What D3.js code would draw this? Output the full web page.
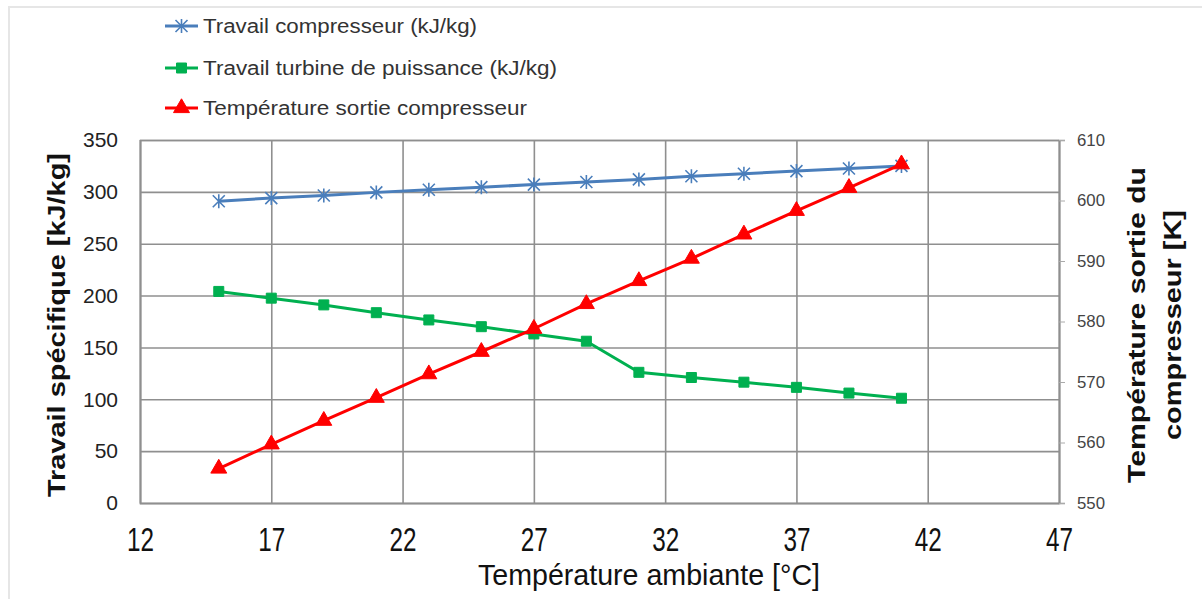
<!DOCTYPE html>
<html>
<head>
<meta charset="utf-8">
<script src="https://cdn.jsdelivr.net/npm/d3@7"></script>
<style>
  body { margin: 0; background: #fff; }
  svg { display: block; }
  text { font-family: "Liberation Sans", Arial, sans-serif; }
</style>
</head>
<body>
<div id="chart"></div>
<script>
// data
var tempAmb = [15, 17, 19, 21, 23, 25, 27, 29, 31, 33, 35, 37, 39, 41];
var travailComp = [291, 294, 296.5, 299.5, 302, 304.5, 307, 309.5, 312, 315, 317.5, 320, 322.5, 325];
var travailTurb = [204, 197.5, 191, 183.5, 176.5, 170, 163, 156, 126, 121, 116.5, 111.5, 106, 101];
var tempSortie = [555.7, 559.7, 563.6, 567.4, 571.3, 575.0, 578.8, 582.9, 586.7, 590.4, 594.4, 598.3, 602.1, 606.0];
var xTicks = [12, 17, 22, 27, 32, 37, 42, 47];
var yLeftTicks = [0, 50, 100, 150, 200, 250, 300, 350];
var yRightTicks = [550, 560, 570, 580, 590, 600, 610];

var w = 1202, h = 599;
var pLeft = 140, pRight = 1059, pTop = 140, pBottom = 503;

var svg = d3.select("#chart").append("svg")
    .attr("width", w)
    .attr("height", h);

// outer frame
svg.append("path")
    .attr("d", "M9,600 L9,7 L1203,7")
    .attr("fill", "none")
    .attr("stroke", "#e6e6e6")
    .attr("stroke-width", 2);

var x = d3.scaleLinear().domain([12, 47]).range([pLeft, pRight]);
var yL = d3.scaleLinear().domain([0, 350]).range([pBottom, pTop]);
var yR = d3.scaleLinear().domain([550, 610]).range([pBottom, pTop]);

var gridCol = "#8f8f8f";

// grid + left axis
var gl = svg.append("g")
    .attr("transform", "translate(" + pLeft + ",0)")
    .call(d3.axisLeft(yL).tickValues(yLeftTicks).tickSize(-(pRight - pLeft)).tickPadding(22));
gl.select(".domain").attr("stroke", gridCol).attr("stroke-width", 1.6);
gl.selectAll(".tick line").attr("stroke", gridCol).attr("stroke-width", 1.6);
gl.selectAll(".tick text")
    .attr("font-size", 21)
    .attr("fill", "#222")
    .style("font-family", "'Liberation Sans', Arial, sans-serif");

// bottom axis + vertical grid
var gb = svg.append("g")
    .attr("transform", "translate(0," + pBottom + ")")
    .call(d3.axisBottom(x).tickValues(xTicks).tickSize(-(pBottom - pTop)).tickPadding(0));
gb.select(".domain").attr("stroke", gridCol).attr("stroke-width", 1.6);
gb.selectAll(".tick line").attr("stroke", gridCol).attr("stroke-width", 1.6);
gb.selectAll(".tick text")
    .attr("y", 48)
    .attr("dy", 0)
    .attr("font-size", 33)
    .attr("fill", "#111")
    .attr("textLength", 27)
    .attr("lengthAdjust", "spacingAndGlyphs");

// right axis
var gr = svg.append("g")
    .attr("transform", "translate(" + pRight + ",0)")
    .call(d3.axisRight(yR).tickValues(yRightTicks).tickSize(6).tickPadding(12));
gr.select(".domain").attr("stroke", gridCol).attr("stroke-width", 1.6);
gr.selectAll(".tick line").attr("stroke", "#aaa").attr("stroke-width", 1);
gr.selectAll(".tick text")
    .attr("font-size", 17)
    .attr("fill", "#444")
    .attr("textLength", 28)
    .attr("lengthAdjust", "spacingAndGlyphs");

// series
var series = [
  { vals: travailComp, y: yL, color: "#4a7ebb", marker: "star" },
  { vals: travailTurb, y: yL, color: "#00b050", marker: "square" },
  { vals: tempSortie, y: yR, color: "#ff0000", marker: "triangle" }
];

function markerPath(type) {
  if (type === "star") return "M0,-7L0,7M-6,-6L6,6M-6,6L6,-6";
  if (type === "square") return "M-5,-5H5V5H-5Z";
  return d3.symbol(d3.symbolTriangle, 110)();
}

series.forEach(function(s) {
  var line = d3.line()
      .x(function(d, i) { return x(tempAmb[i]); })
      .y(function(d) { return s.y(d); });
  svg.append("path")
      .datum(s.vals)
      .attr("d", line)
      .attr("fill", "none")
      .attr("stroke", s.color)
      .attr("stroke-width", 3)
      .attr("stroke-linejoin", "round");
  svg.selectAll(null)
      .data(s.vals)
      .enter()
      .append("path")
      .attr("transform", function(d, i) {
        return "translate(" + x(tempAmb[i]) + "," + s.y(d) + ")";
      })
      .attr("d", markerPath(s.marker))
      .attr("fill", s.marker === "star" ? "none" : s.color)
      .attr("stroke", s.color)
      .attr("stroke-width", s.marker === "star" ? 1.6 : 1);
});

// legend
var legendItems = [
  { label: "Travail  compresseur (kJ/kg)", color: "#4a7ebb", marker: "star", len: 274 },
  { label: "Travail  turbine de puissance (kJ/kg)", color: "#00b050", marker: "square", len: 354 },
  { label: "Température sortie compresseur", color: "#ff0000", marker: "triangle", len: 324 }
];
var lg = svg.selectAll(".leg")
    .data(legendItems)
    .enter()
    .append("g")
    .attr("transform", function(d, i) { return "translate(165," + [26, 68, 108][i] + ")"; });
lg.append("line")
    .attr("x1", 0).attr("x2", 33)
    .attr("stroke", function(d) { return d.color; })
    .attr("stroke-width", 3);
lg.append("path")
    .attr("transform", "translate(16.5,0)")
    .attr("d", function(d) { return markerPath(d.marker); })
    .attr("fill", function(d) { return d.marker === "star" ? "none" : d.color; })
    .attr("stroke", function(d) { return d.color; })
    .attr("stroke-width", function(d) { return d.marker === "star" ? 1.6 : 1; });
lg.append("text")
    .attr("x", 38)
    .attr("y", 7)
    .attr("font-size", 20)
    .attr("fill", "#333")
    .attr("textLength", function(d) { return d.len; })
    .attr("lengthAdjust", "spacingAndGlyphs")
    .text(function(d) { return d.label; });

// axis titles
svg.append("text")
    .attr("transform", "translate(65,325) rotate(-90)")
    .attr("text-anchor", "middle")
    .attr("font-size", 24)
    .attr("font-weight", "bold")
    .attr("fill", "#111")
    .attr("textLength", 344)
    .attr("lengthAdjust", "spacingAndGlyphs")
    .text("Travail spécifique [kJ/kg]");

svg.append("text")
    .attr("transform", "translate(1145,325) rotate(-90)")
    .attr("text-anchor", "middle")
    .attr("font-size", 24)
    .attr("font-weight", "bold")
    .attr("fill", "#111")
    .attr("textLength", 316)
    .attr("lengthAdjust", "spacingAndGlyphs")
    .text("Température sortie  du");

svg.append("text")
    .attr("transform", "translate(1181,325) rotate(-90)")
    .attr("text-anchor", "middle")
    .attr("font-size", 24)
    .attr("font-weight", "bold")
    .attr("fill", "#111")
    .attr("textLength", 230)
    .attr("lengthAdjust", "spacingAndGlyphs")
    .text("compresseur [K]");

svg.append("text")
    .attr("x", 649)
    .attr("y", 585)
    .attr("text-anchor", "middle")
    .attr("font-size", 30)
    .attr("fill", "#111")
    .attr("textLength", 342)
    .attr("lengthAdjust", "spacingAndGlyphs")
    .text("Température ambiante [°C]");
</script>
</body>
</html>
